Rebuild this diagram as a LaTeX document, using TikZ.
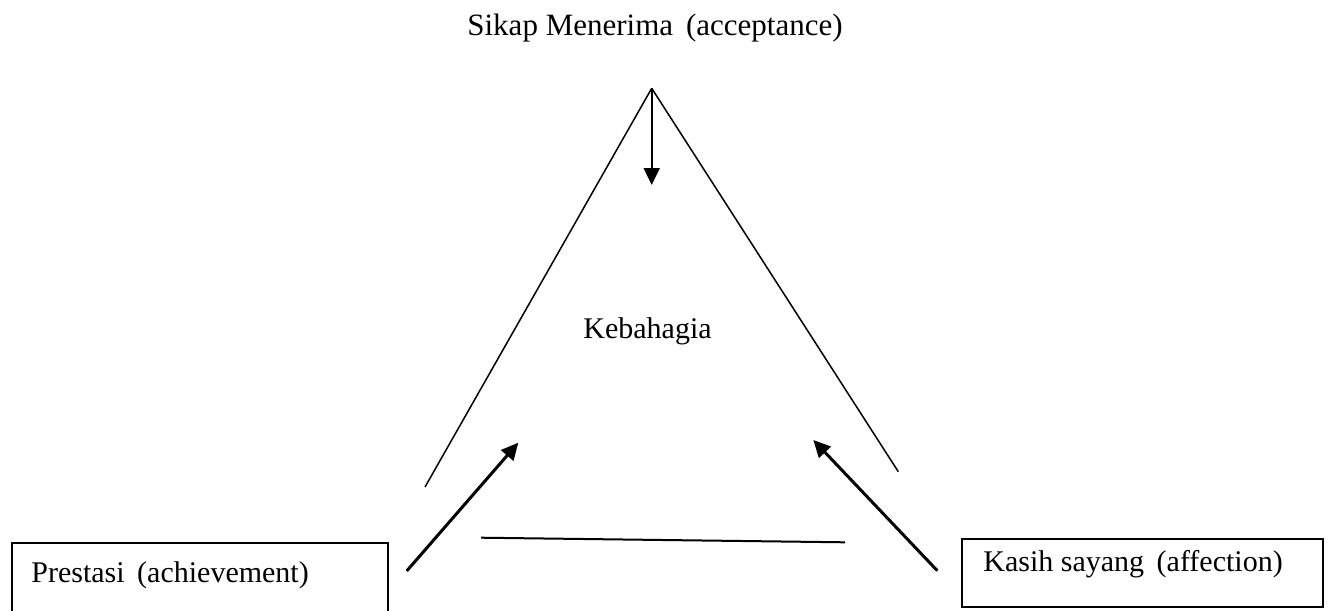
\documentclass[tikz,border=0pt]{standalone}
\usepackage{fontspec}
\setmainfont{Liberation Serif}
\usetikzlibrary{arrows.meta}
\begin{document}
\begin{tikzpicture}[x=0.5pt,y=-0.5pt,
  lbl/.style={font=\fontsize{15}{18}\selectfont, inner sep=0pt},
  side/.style={line width=0.75pt},
  arr/.style={line width=1.5pt, -{Triangle[length=8.5pt,width=8pt]}},
  boxst/.style={draw, line width=1pt, inner sep=0pt}]
\useasboundingbox (0,0) rectangle (1331,610);
\clip (0,0) rectangle (1331,610);
% texts
\node[lbl, font=\fontsize{15.5}{18}\selectfont, anchor=base] (top) at (655,36) {Sikap Menerima\ \,(acceptance)};
\node[lbl, anchor=base] (keb) at (647.5,338) {Kebahagia};
% boxes
\node[boxst, minimum width=188pt, minimum height=40pt, anchor=north west] (pbox) at (10.7,542) {};
\node[lbl, anchor=base west] (ptxt) at (31,582) {Prestasi\ \,(achievement)};
\node[boxst, minimum width=180.7pt, minimum height=34pt, anchor=north west] (kbox) at (960.7,538) {};
\node[lbl, anchor=base west] (ktxt) at (983,571) {Kasih sayang\ \,(affection)};
% triangle coordinates
\coordinate (apex) at (651.7,88.3);
\coordinate (downtip) at (651.7,185);
\coordinate (lend) at (425,487);
\coordinate (rend) at (898.3,471.7);
\coordinate (bl) at (481,537.7);
\coordinate (br) at (845,542.3);
\coordinate (latail) at (406.7,571);
\coordinate (latip) at (518.3,442.7);
\coordinate (ratail) at (937.3,570.7);
\coordinate (ratip) at (813.3,440);
% lines
\draw[side] (apex) -- (lend);
\draw[side] (apex) -- (rend);
\draw[line width=1pt] (bl) -- (br);
% arrows
\draw[arr, line width=1pt] (apex) -- (downtip);
\draw[arr] (latail) -- (latip);
\draw[arr] (ratail) -- (ratip);
\end{tikzpicture}
\end{document}
